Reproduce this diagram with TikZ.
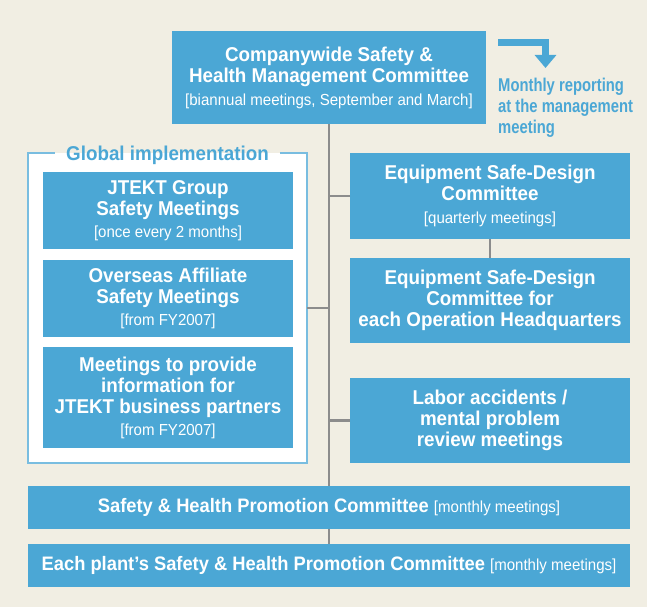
\documentclass[tikz,border=0pt]{standalone}
\usepackage{fontspec}
\setmainfont{Liberation Sans}[FakeStretch=0.94]
\newfontfamily\notefont{Liberation Sans}[FakeStretch=0.8]
\usetikzlibrary{arrows.meta}

\definecolor{boxblue}{HTML}{4BA7D5}
\definecolor{paper}{HTML}{F1EEE3}
\definecolor{spine}{HTML}{8C8C8C}
\definecolor{framecol}{HTML}{79BDE0}

\newcommand{\headfont}{\bfseries\fontsize{20}{21}\selectfont}
\newcommand{\freq}[1]{{\mdseries\fontsize{16}{21}\selectfont #1}}

\tikzstyle{committee} = [
    rectangle,
    fill=boxblue,
    text=white,
    align=center,
    anchor=north west,
    inner sep=0pt,
    outer sep=0pt,
    font=\headfont
]
\tikzstyle{panel} = [
    rectangle,
    fill=white,
    anchor=north west,
    inner sep=0pt,
    outer sep=0pt
]
\tikzstyle{link} = [draw=spine, line width=2.2pt]
\tikzstyle{reparrow} = [draw=boxblue, line width=7pt, -{Triangle[width=21pt,length=13pt]}]

\begin{document}
\begin{tikzpicture}[x=1pt, y=-1pt]

\fill[paper] (0,0) rectangle (647,607);
\useasboundingbox (0,0) rectangle (647,607);

\node (top) [committee, minimum width=314pt, minimum height=93pt] at (172,31)
{Companywide Safety \&\\Health Management Committee\\[2pt]\freq{[biannual meetings, September and March]}};

% global implementation panel
\node (global) [panel, minimum width=279pt, minimum height=310pt] at (28,153) {};
\node (globaltitle) [font=\headfont, text=boxblue, inner xsep=11pt, inner ysep=0pt, outer sep=0pt] at (167.5,155)
{Global implementation};
\draw [framecol, line width=1.5pt] (globaltitle.east |- global.north) -| (global.south east)
    -| (global.north west) -- (globaltitle.west |- global.north);

\node (group) [committee, minimum width=250pt, minimum height=77pt] at (43,172)
{JTEKT Group\\Safety Meetings\\[1pt]\freq{[once every 2 months]}};

\node (overseas) [committee, minimum width=250pt, minimum height=77pt] at (43,260)
{Overseas Affiliate\\Safety Meetings\\[1pt]\freq{[from FY2007]}};

\node (partners) [committee, minimum width=250pt, minimum height=101pt] at (43,347)
{Meetings to provide\\information for\\JTEKT business partners\\[1pt]\freq{[from FY2007]}};

% right column
\node (design) [committee, minimum width=280pt, minimum height=86pt] at (350,153)
{Equipment Safe-Design\\Committee\\[2pt]\freq{[quarterly meetings]}};

\node (designhq) [committee, minimum width=280pt, minimum height=85pt] at (350,258)
{Equipment Safe-Design\\Committee for\\each Operation Headquarters};

\node (labor) [committee, minimum width=280pt, minimum height=85pt] at (350,378)
{Labor accidents /\\mental problem\\review meetings};

% bottom rows
\node (promo) [committee, minimum width=602pt, minimum height=43pt,
    font=\bfseries\fontsize{19.5}{21}\selectfont] at (28,486)
{Safety \& Health Promotion Committee \freq{[monthly meetings]}};

\node (plant) [committee, minimum width=602pt, minimum height=43pt,
    font=\bfseries\fontsize{19.5}{21}\selectfont] at (28,544)
{Each plant's Safety \& Health Promotion Committee \freq{[monthly meetings]}};

% reporting note
\node (report) [anchor=north west, align=left, inner sep=0pt, text=boxblue,
    font=\notefont\bfseries\fontsize{18.5}{21}\selectfont] at (498,78)
{Monthly reporting\\at the management\\meeting};
\coordinate (repfrom) at (498,42.5);
\coordinate (repto) at (545.5,68);
\draw [reparrow] (repfrom) -| (repto);

\draw [link] (top.south) -- (promo.north);
\draw [link] (promo.south) -- (plant.north);
\draw [link] (design.south) -- (designhq.north);
\draw [link] (global.east) -- (global.east -| top.south);
\draw [link] (design.west) -- (design.west -| top.south);
\draw [link] (labor.west) -- (labor.west -| top.south);

\end{tikzpicture}
\end{document}
